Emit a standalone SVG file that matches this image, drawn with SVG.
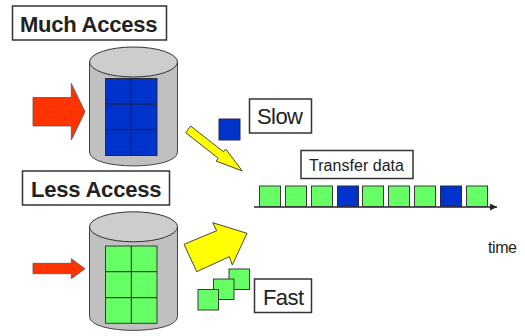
<svg xmlns="http://www.w3.org/2000/svg" width="525" height="336" viewBox="0 0 525 336">
<defs>
<marker id="ah" markerUnits="userSpaceOnUse" markerWidth="8" markerHeight="8" refX="7" refY="3.5" orient="auto"><path d="M0,0 L7,3.5 L0,7 Z" fill="#262626"/></marker>
</defs>
<style>
text{font-family:"Liberation Sans",Arial,sans-serif;fill:#222}
.box{fill:#fff;stroke:#333;stroke-width:1.500}
.cyl{fill:#c0c0c0;stroke:#444;stroke-width:1}
.top{fill:#cdcdcd;stroke:#333;stroke-width:1}
.b{fill:#0033cc;stroke:#2b2b40;stroke-width:1}
.g{fill:#66ff66;stroke:#3a3a3a;stroke-width:1}
.red{fill:#ff3300;stroke:#555;stroke-width:.8}
.yel{fill:#ffff00;stroke:#333;stroke-width:.9}
.grid{stroke:#222;stroke-width:1;fill:none}
.lg{font-weight:bold;font-size:22px}
</style>
<g id="much-access"><rect class="box" x="12.500" y="6" width="154" height="34"/><text class="lg" x="20" y="32" textLength="137.500">Much Access</text></g>
<g id="disk-top">
<path class="cyl" d="M89.500,62 V152 C89.500,170.500 177.500,170.500 177.500,152 V62 Z"/>
<ellipse class="top" cx="133.500" cy="62" rx="44" ry="15"/>
<rect class="b" x="105.500" y="78.500" width="51.500" height="77"/>
<path class="grid" d="M131.300,78.500 V155.500 M105.500,104 H157 M105.500,129.700 H157"/>
</g>
<g id="arrow-in-top"><path class="red" d="M33,97.500 H71.300 V83.500 L85,111.700 L71.300,140 V126 H33 Z"/></g>
<g id="less-access"><rect class="box" x="22.500" y="171" width="147" height="34"/><text class="lg" x="31" y="197" textLength="130.500">Less Access</text></g>
<g id="disk-bottom">
<path class="cyl" d="M89.500,227 V316.500 C89.500,335 177.500,335 177.500,316.500 V227 Z"/>
<ellipse class="top" cx="133.500" cy="226.800" rx="44" ry="15"/>
<rect class="g" x="105.500" y="246" width="51.500" height="77.300"/>
<path class="grid" d="M131.300,246 V323.300 M105.500,271.700 H157 M105.500,297.700 H157"/>
</g>
<g id="arrow-in-bottom"><path class="red" d="M33,263.300 H71.300 V258.700 L85,268.700 L71.300,278.700 V273.700 H33 Z"/></g>
<g id="connectors">
<path class="yel" d="M190.700,126 L185.700,132.700 L218.300,158.300 L216,161 L242.300,171 L226,149.300 L223.300,151.700 Z"/>
<path class="yel" d="M184,244.300 L196.700,271.700 L229.300,256.700 L232.300,265 L247,233.300 L212.700,222.700 L216.700,230.700 Z"/>
<path d="M254,207 H497" stroke="#262626" stroke-width="1.500" fill="none" marker-end="url(#ah)"/>
</g>
<g id="slow"><rect class="b" x="219" y="119" width="21" height="21"/><rect class="box" x="249.500" y="99" width="62" height="34"/><text x="257" y="124" font-size="22" textLength="46">Slow</text></g>
<g id="transfer-data"><rect class="box" x="301" y="150.500" width="112" height="28"/><text x="309" y="171" font-size="16" textLength="95">Transfer data</text></g>
<g id="stream">
<rect class="g" x="259.500" y="186" width="21" height="20.500"/>
<rect class="g" x="285.500" y="186" width="21" height="20.500"/>
<rect class="g" x="311.500" y="186" width="21" height="20.500"/>
<rect class="b" x="337.500" y="186" width="21" height="20.500"/>
<rect class="g" x="362.500" y="186" width="21" height="20.500"/>
<rect class="g" x="388.500" y="186" width="21" height="20.500"/>
<rect class="g" x="414.500" y="186" width="21" height="20.500"/>
<rect class="b" x="440.500" y="186" width="21" height="20.500"/>
<rect class="g" x="466.500" y="186" width="21" height="20.500"/>
</g>
<g id="time"><text x="488" y="253" font-size="16" textLength="29">time</text></g>
<g id="fast">
<rect class="g" x="229" y="269" width="20.500" height="20.500"/>
<rect class="g" x="213.500" y="279" width="20.500" height="20.500"/>
<rect class="g" x="198" y="289.500" width="20.500" height="20.500"/>
<rect class="box" x="254.500" y="279" width="57" height="33.500"/><text x="263" y="305" font-size="22" textLength="41">Fast</text>
</g>
</svg>
